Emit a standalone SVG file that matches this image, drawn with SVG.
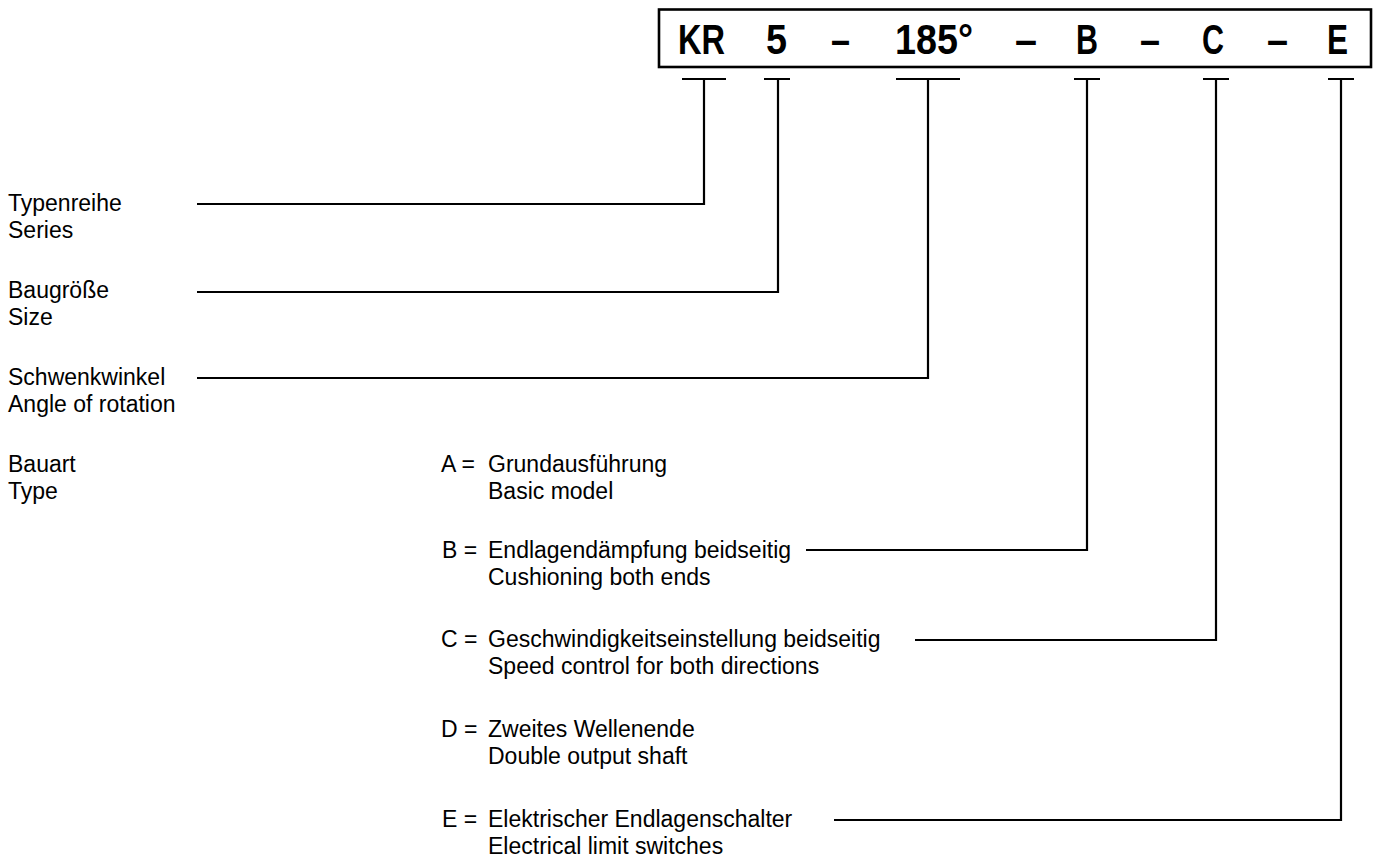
<svg xmlns="http://www.w3.org/2000/svg" width="1380" height="859" viewBox="0 0 1380 859">
<style>
.big{font-family:"Liberation Sans",Arial,sans-serif;font-weight:bold;font-size:42px;fill:#000}
.t{font-family:"Liberation Sans",Arial,sans-serif;font-size:23px;fill:#000}
.ln{fill:none;stroke:#000;stroke-width:2.2}
</style>
<rect width="1380" height="859" fill="#fff"/>
<g id="code">
<rect x="659" y="9.5" width="712" height="57.5" fill="none" stroke="#000" stroke-width="2.6"/>
<text class="big" x="678" y="54" textLength="47" lengthAdjust="spacingAndGlyphs">KR</text>
<text class="big" x="766" y="54" textLength="21" lengthAdjust="spacingAndGlyphs">5</text>
<text class="big" x="831" y="54" textLength="19" lengthAdjust="spacingAndGlyphs">–</text>
<text class="big" x="895" y="54" textLength="78" lengthAdjust="spacingAndGlyphs">185°</text>
<text class="big" x="1015" y="54" textLength="22" lengthAdjust="spacingAndGlyphs">–</text>
<text class="big" x="1076" y="54" textLength="22" lengthAdjust="spacingAndGlyphs">B</text>
<text class="big" x="1140" y="54" textLength="20" lengthAdjust="spacingAndGlyphs">–</text>
<text class="big" x="1202" y="54" textLength="22" lengthAdjust="spacingAndGlyphs">C</text>
<text class="big" x="1267" y="54" textLength="21" lengthAdjust="spacingAndGlyphs">–</text>
<text class="big" x="1327" y="54" textLength="21" lengthAdjust="spacingAndGlyphs">E</text>
</g>
<g id="series"><text class="t" x="8" y="211">Typenreihe</text><text class="t" x="8" y="238">Series</text></g>
<g id="size"><text class="t" x="8" y="298">Baugröße</text><text class="t" x="8" y="325">Size</text></g>
<g id="angle"><text class="t" x="8" y="385">Schwenkwinkel</text><text class="t" x="8" y="412">Angle of rotation</text></g>
<g id="type"><text class="t" x="8" y="472">Bauart</text><text class="t" x="8" y="499">Type</text></g>
<g id="optA"><text class="t" x="441" y="472">A =</text><text class="t" x="488" y="472">Grundausführung</text><text class="t" x="488" y="499">Basic model</text></g>
<g id="optB"><text class="t" x="442" y="558">B =</text><text class="t" x="488" y="558">Endlagendämpfung beidseitig</text><text class="t" x="488" y="585">Cushioning both ends</text></g>
<g id="optC"><text class="t" x="441" y="647">C =</text><text class="t" x="488" y="647">Geschwindigkeitseinstellung beidseitig</text><text class="t" x="488" y="674">Speed control for both directions</text></g>
<g id="optD"><text class="t" x="441" y="737">D =</text><text class="t" x="488" y="737">Zweites Wellenende</text><text class="t" x="488" y="764">Double output shaft</text></g>
<g id="optE"><text class="t" x="442" y="827">E =</text><text class="t" x="488" y="827">Elektrischer Endlagenschalter</text><text class="t" x="488" y="854">Electrical limit switches</text></g>
<g id="connectors">
<path class="ln" d="M682 79H726M764 79H790M896 79H960M1074 79H1100M1203 79H1229M1328 79H1354"/>
<path class="ln" d="M197 204H704V79"/>
<path class="ln" d="M197 292H778V79"/>
<path class="ln" d="M197 378H928V79"/>
<path class="ln" d="M806 550H1087V79"/>
<path class="ln" d="M915 640H1216V79"/>
<path class="ln" d="M834 820H1341V79"/>
</g>
</svg>
